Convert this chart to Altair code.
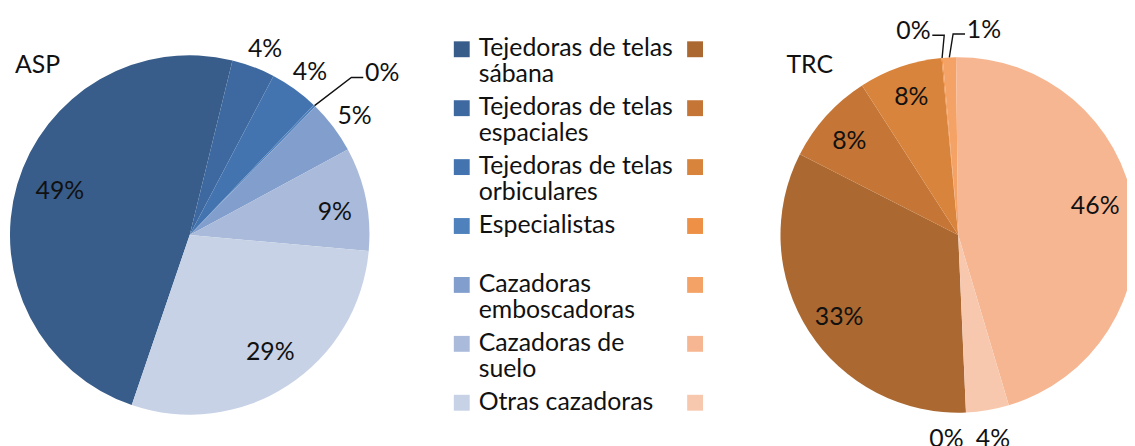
import math
import altair as alt
import pandas as pd

# ---------------- data ----------------
categories = [
    "Tejedoras de telas sábana",
    "Tejedoras de telas espaciales",
    "Tejedoras de telas orbiculares",
    "Especialistas",
    "Cazadoras emboscadoras",
    "Cazadoras de suelo",
    "Otras cazadoras",
]
legend_labels = [
    "Tejedoras de telas\nsábana",
    "Tejedoras de telas\nespaciales",
    "Tejedoras de telas\norbiculares",
    "Especialistas",
    "Cazadoras\nemboscadoras",
    "Cazadoras de\nsuelo",
    "Otras cazadoras",
]
asp_values = [0.486, 0.039, 0.044, 0.002, 0.048, 0.093, 0.288]
# TRC series carries one extra unnamed zero point (its 0% label sits at the bottom)
trc_categories = categories + [""]
trc_values = [0.332, 0.084, 0.076, 0.001, 0.012, 0.456, 0.039, 0.0]

pie_titles = ["ASP", "TRC"]

# ---------------- style ----------------
FONT = "Lato"
FS = 25
TXT = "#111111"
blues = ["#385D8A", "#3E69A0", "#4474B0", "#4F81BD", "#819ECD", "#A9BADA", "#C7D2E6"]
oranges = ["#AB6830", "#C57636", "#D9843C", "#EE9045", "#F5A266", "#F7B692", "#F8C8AE"]

W, H = 1127, 438
ASP_C, ASP_R, ASP_ROT = (183, 227), 181, 198.8
TRC_C, TRC_R, TRC_ROT = (957, 227), 179, 177.5

asp_lab_r = [138, 202, 204, 253, 205, 148, 143]
asp_lab_dang = [2.3, 1.3, 0.7, 6.0, 1.1, 2.6, -1.5]
asp_leader = [0, 0, 0, -1, 0, 0, 0]
trc_lab_r = [146, 145, 147, 210, 208, 141, 209, 206]
trc_lab_dang = [-2.0, -1.3, 0.3, -7.2, 10.0, -3.3, -0.1, 5.8]
trc_leader = [0, 0, 0, 1, -1, 0, 0, 0]


def pie_frames(cats, vals, rot, lab_r, lab_dang, leader, c, R, tag):
    total = sum(vals)
    rows, lines = [], []
    cum = 0.0
    for i, (k, v) in enumerate(zip(cats, vals)):
        mid = rot + (cum + v / 2) / total * 360
        cum += v
        ang = math.radians(mid + lab_dang[i])
        rows.append(dict(cat=k, value=v, idx=i, lab_theta=ang, lab_r=lab_r[i]))
        s = leader[i]
        if s:
            m = math.radians(mid)
            ex, ey = c[0] + R * math.sin(m), c[1] - R * math.cos(m)
            lx, ly = c[0] + lab_r[i] * math.sin(ang), c[1] - lab_r[i] * math.cos(ang)
            endx, endy = lx + s * 19, ly + 4
            elx, ely = endx + s * 12, endy
            for st, (px, py) in enumerate([(ex, ey), (elx, ely), (endx, endy)]):
                lines.append(dict(lid=f"{tag}{i}", step=st, px=px, py=py))
    return pd.DataFrame(rows), pd.DataFrame(lines)


asp_df, asp_lines = pie_frames(categories, asp_values, ASP_ROT, asp_lab_r, asp_lab_dang, asp_leader, ASP_C, ASP_R, "a")
trc_df, trc_lines = pie_frames(trc_categories, trc_values, TRC_ROT, trc_lab_r, trc_lab_dang, trc_leader, TRC_C, TRC_R, "t")
lines_df = pd.concat([asp_lines, trc_lines], ignore_index=True)


def pie_layers(df, cats, colors, rot, c, R):
    arc = alt.Chart(df).mark_arc(outerRadius=R, clip=True).encode(
        theta=alt.Theta("value:Q", stack=True,
                        scale=alt.Scale(range=[math.radians(rot), math.radians(rot) + 2 * math.pi], nice=False)),
        color=alt.Color("cat:N", scale=alt.Scale(domain=cats, range=colors), legend=None),
        order=alt.Order("idx:Q"),
        x=alt.value(c[0]),
        y=alt.value(c[1]),
    )
    lab = alt.Chart(df).mark_text(font=FONT, fontSize=FS, color=TXT, align="center", baseline="middle").encode(
        theta=alt.Theta("lab_theta:Q", scale=None, stack=False),
        radius=alt.Radius("lab_r:Q", scale=None),
        text=alt.Text("value:Q", format=".0%"),
        x=alt.value(c[0]),
        y=alt.value(c[1]),
    )
    return [arc, lab]


layers = []
layers += pie_layers(asp_df, categories, blues, ASP_ROT, ASP_C, ASP_R)
layers += pie_layers(trc_df, trc_categories, oranges + ["#FFFFFF"], TRC_ROT, TRC_C, TRC_R)

layers.append(
    alt.Chart(lines_df).mark_line(color=TXT, strokeWidth=1.4).encode(
        x=alt.X("px:Q", scale=None, axis=None),
        y=alt.Y("py:Q", scale=None, axis=None),
        detail="lid:N",
        order="step:Q",
    )
)

# titles
title_df = pd.DataFrame({"t": pie_titles})
layers.append(
    alt.Chart(title_df.iloc[[0]]).mark_text(font=FONT, fontSize=FS, color=TXT, align="left", baseline="alphabetic").encode(
        text="t:N", x=alt.value(7), y=alt.value(64))
)
layers.append(
    alt.Chart(title_df.iloc[[1]]).mark_text(font=FONT, fontSize=FS, color=TXT, align="left", baseline="alphabetic").encode(
        text="t:N", x=alt.value(784), y=alt.value(64))
)

# legend (two swatch columns)
leg_df = pd.DataFrame({"cat": categories, "label": legend_labels})
leg_y = alt.Y("cat:N", scale=alt.Scale(type="point", domain=categories, range=[40, 396], padding=0), axis=None)
layers.append(
    alt.Chart(leg_df).mark_square(size=256, opacity=1).encode(
        x=alt.value(457), y=leg_y,
        color=alt.Color("cat:N", scale=alt.Scale(domain=categories, range=blues), legend=None))
)
layers.append(
    alt.Chart(leg_df).mark_square(size=256, opacity=1).encode(
        x=alt.value(692), y=leg_y,
        color=alt.Color("cat:N", scale=alt.Scale(domain=categories, range=oranges), legend=None))
)
layers.append(
    alt.Chart(leg_df).mark_text(font=FONT, fontSize=FS, color=TXT, align="left", baseline="top",
                                lineBreak="\n", lineHeight=26, dy=-13).encode(
        x=alt.value(474), y=leg_y, text="label:N")
)

chart = alt.layer(*layers).resolve_scale(
    theta="independent", color="independent", x="independent", y="independent", radius="independent"
).properties(
    width=W, height=H, autosize=alt.AutoSizeParams(type="none"), padding=0
).configure_view(stroke=None)

chart.save("out.html", embed_options={"renderer": "svg", "actions": False})
